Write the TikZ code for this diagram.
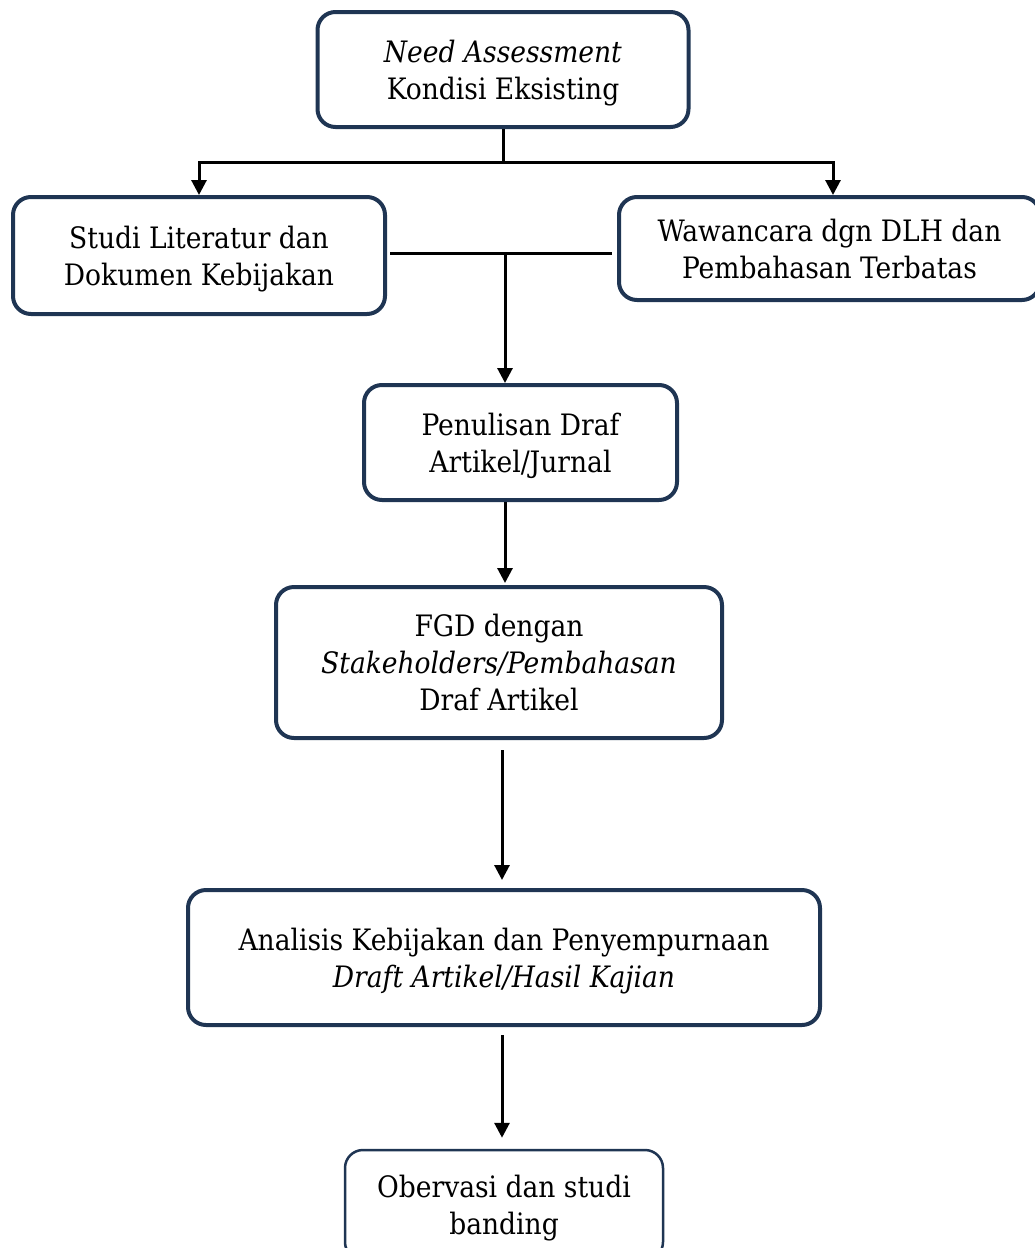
\documentclass[tikz,border=0pt]{standalone}
\usepackage{fontspec}
\setmainfont{DejaVu Serif Condensed}
\usepackage{tikz}
\usetikzlibrary{arrows.meta,calc}
\definecolor{navy}{HTML}{1F3553}

\begin{document}
\begin{tikzpicture}[x=1pt,y=-1pt,
  font=\fontsize{29.5}{37}\selectfont,
  procbox/.style={draw=navy,line width=4pt,rounded corners=18pt,align=center,inner sep=0pt,text depth=-1pt},
  link/.style={line width=3pt,black},
  arrowline/.style={link,-{Triangle[length=15pt,width=15pt]}}]
\useasboundingbox (0,0) rectangle (1034,1248);
\node[procbox,minimum width=371pt,minimum height=115pt] (need) at (503,69.5) {\textit{Need Assessment}\\Kondisi Eksisting};
\node[procbox,minimum width=372pt,minimum height=117pt] (studi) at (199,255.5) {Studi Literatur dan\\Dokumen Kebijakan};
\node[procbox,minimum width=421pt,minimum height=103pt] (wawancara) at (829.5,248.5) {Wawancara dgn DLH dan\\Pembahasan Terbatas};
\node[procbox,minimum width=313pt,minimum height=115pt] (draf) at (520.5,442.5) {Penulisan Draf\\Artikel/Jurnal};
\node[procbox,minimum width=446pt,minimum height=151pt] (fgd) at (499,662.5) {FGD dengan\\\textit{Stakeholders/Pembahasan}\\Draf Artikel};
\node[procbox,minimum width=632pt,minimum height=135pt] (analisis) at (504,957.5) {Analisis Kebijakan dan Penyempurnaan\\\textit{Draft Artikel/Hasil Kajian}};
\node[procbox,line width=2.5pt,minimum width=318pt,minimum height=110pt] (banding) at (504,1205) {Obervasi dan studi\\banding};
% split from the top box
\coordinate (split) at (503,162);
\draw[link] (need.south) -- (split);
\draw[arrowline] (split) -| (studi.north);
\draw[arrowline] (split) -| ($(wawancara.north)+(3.5,0)$);
% merge into the draft box
\coordinate (merge) at (505,253);
\draw[link] ($(studi.east |- merge)+(3,0)$) -- ($(wawancara.west |- merge)+(-5,0)$);
\draw[arrowline] (merge) -- (merge |- draf.north);
\draw[arrowline] (merge |- draf.south) -- ($(merge |- fgd.north)+(0,-2)$);
% down the chain
\coordinate (trunk) at (502,0);
\draw[arrowline] ($(trunk |- fgd.south)+(0,10)$) -- ($(trunk |- analisis.north)+(0,-8)$);
\draw[arrowline] ($(trunk |- analisis.south)+(0,8)$) -- ($(trunk |- banding.north)+(0,-11)$);
\end{tikzpicture}
\end{document}
